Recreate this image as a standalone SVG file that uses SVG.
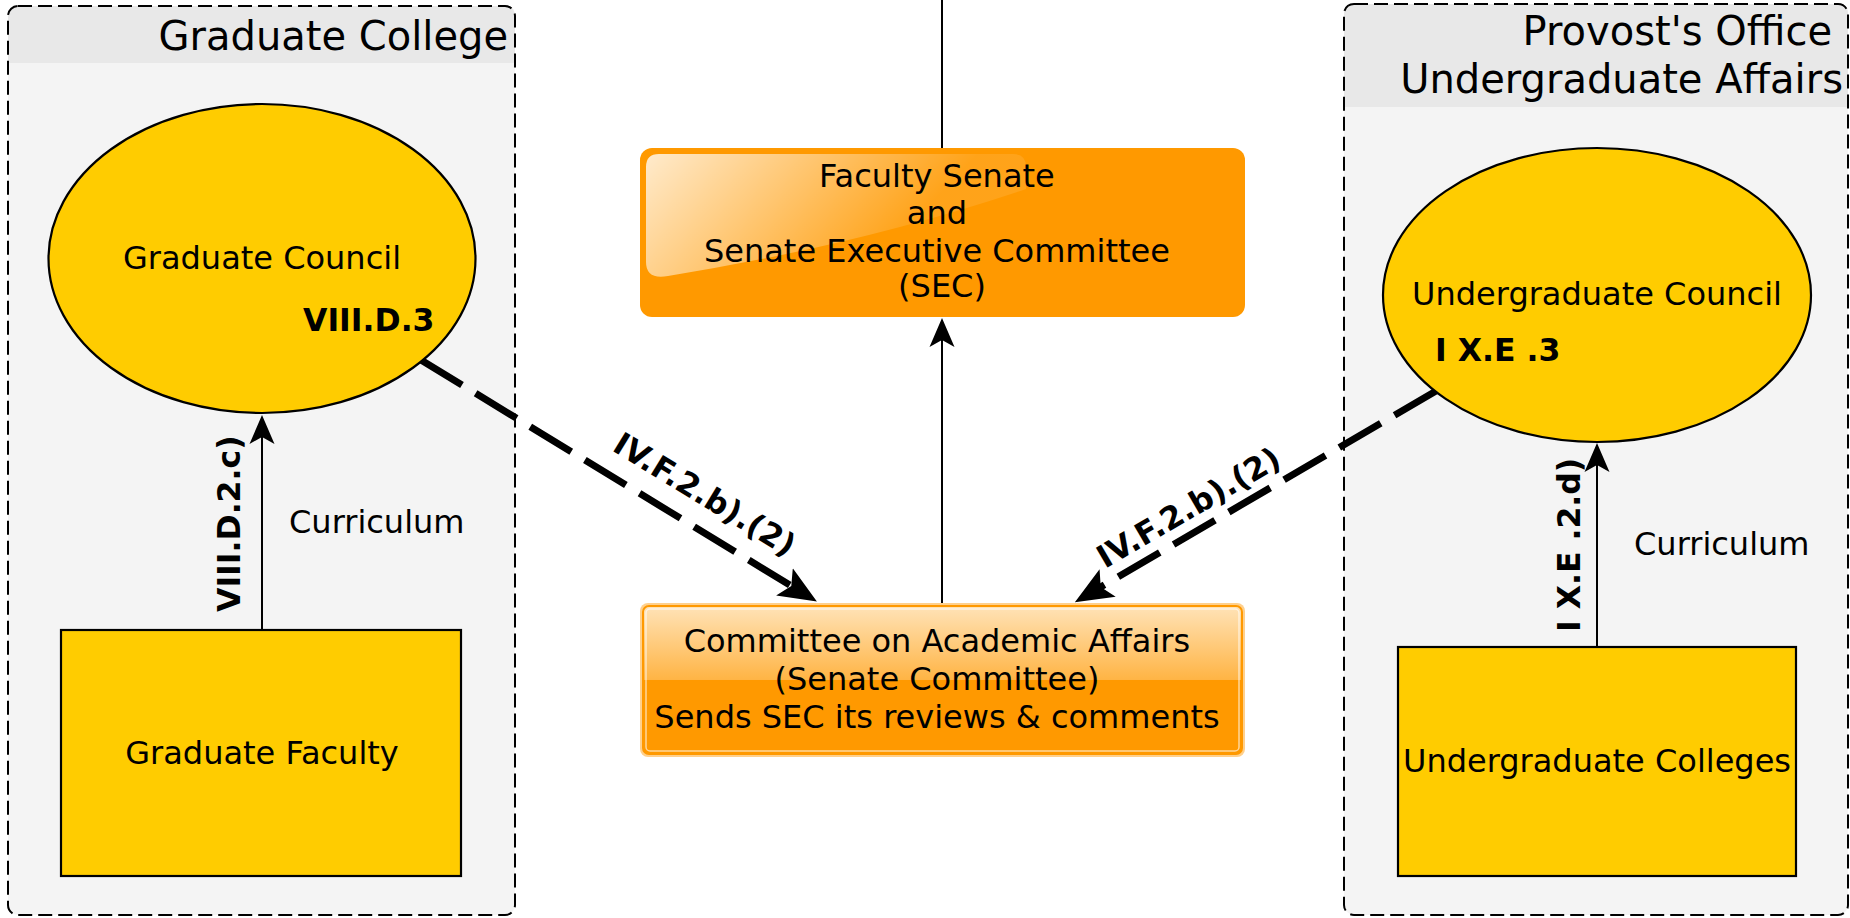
<svg xmlns="http://www.w3.org/2000/svg" width="1850" height="918" viewBox="0 0 1850 918">
  <style>
    .t { font-family: 'DejaVu Sans', 'Liberation Sans', sans-serif; fill: #000; }
    .node { font-size: 32px; }
    .lbl { font-size: 31.5px; font-weight: bold; }
    .hdr { font-size: 40px; }
    .box { fill: #f4f4f4; }
    .band { fill: #e8e8e8; }
    .frame { fill: none; stroke: #000; stroke-width: 2; stroke-dasharray: 14 6; }
    .yel { fill: #ffcc00; stroke: #000; stroke-width: 2.2; }
    .thin { fill: none; stroke: #000; stroke-width: 2; }
    .thick { fill: none; stroke: #000; stroke-width: 7; stroke-dasharray: 48 16; }
  </style>
  <defs>
    <marker id="arrS" markerUnits="userSpaceOnUse" markerWidth="32" markerHeight="28" viewBox="0 -14 32 28" refX="9" refY="0" orient="auto">
      <path d="M0,-12.5 L29,0 L0,12.5 L7,0 Z" fill="#000"/>
    </marker>
    <marker id="arrL" markerUnits="userSpaceOnUse" markerWidth="40" markerHeight="36" viewBox="0 -18 40 36" refX="10" refY="0" orient="auto">
      <path d="M0,-16 L38,0 L0,16 L8,0 Z" fill="#000"/>
    </marker>
    <linearGradient id="gloss" x1="0" y1="0" x2="0" y2="1">
      <stop offset="0" stop-color="#ffe3b8"/>
      <stop offset="0.5" stop-color="#ffb444"/>
      <stop offset="0.5" stop-color="#ff9900"/>
      <stop offset="1" stop-color="#ff9900"/>
    </linearGradient>
    <linearGradient id="shine" gradientUnits="userSpaceOnUse" x1="646" y1="154" x2="820" y2="320">
      <stop offset="0" stop-color="#ffffff" stop-opacity="0.8"/>
      <stop offset="1" stop-color="#ffffff" stop-opacity="0.1"/>
    </linearGradient>
  </defs>

  <g id="graduate-college">
    <rect class="box" x="8" y="6" width="507" height="909" rx="10"/>
    <path class="band" d="M8,63 V16 Q8,6 18,6 H505 Q515,6 515,16 V63 Z"/>
    <rect class="frame" x="8" y="6" width="507" height="909" rx="10"/>
    <text class="t hdr" x="508" y="50" text-anchor="end">Graduate College</text>
  </g>

  <g id="provost-office">
    <rect class="box" x="1344" y="4" width="504" height="911" rx="10"/>
    <path class="band" d="M1344,107 V14 Q1344,4 1354,4 H1838 Q1848,4 1848,14 V107 Z"/>
    <rect class="frame" x="1344" y="4" width="504" height="911" rx="10"/>
    <text class="t hdr" x="1832" y="45" text-anchor="end">Provost's Office</text>
    <text class="t hdr" x="1843" y="93" text-anchor="end">Undergraduate Affairs</text>
  </g>

  <g id="connectors">
    <path class="thin" d="M942,0 V148"/>
    <path class="thin" d="M262,630 V435" marker-end="url(#arrS)"/>
    <path class="thin" d="M942,603 V338" marker-end="url(#arrS)"/>
    <path class="thin" d="M1597,647 V463" marker-end="url(#arrS)"/>
    <path class="thick" d="M421,360 L793,587" marker-end="url(#arrL)"/>
    <path class="thick" d="M1436,391 L1099,588" marker-end="url(#arrL)"/>
    <text class="t lbl" transform="translate(240,612) rotate(-90)">VIII.D.2.c)</text>
    <text class="t node" x="289" y="533">Curriculum</text>
    <text class="t lbl" transform="translate(1580,632) rotate(-90)">I X.E .2.d)</text>
    <text class="t node" x="1634" y="555">Curriculum</text>
    <text class="t lbl" transform="translate(611,450) rotate(31.4)">IV.F.2.b).(2)</text>
    <text class="t lbl" transform="translate(1105,569) rotate(-30.3)">IV.F.2.b).(2)</text>
  </g>

  <g id="graduate-council">
    <ellipse class="yel" cx="262" cy="258.5" rx="213.5" ry="154.5"/>
    <text class="t node" x="262" y="269" text-anchor="middle">Graduate Council</text>
    <text class="t lbl" x="303" y="331">VIII.D.3</text>
  </g>

  <g id="graduate-faculty">
    <rect class="yel" x="61" y="630" width="400" height="246"/>
    <text class="t node" x="262" y="764" text-anchor="middle">Graduate Faculty</text>
  </g>

  <g id="undergraduate-council">
    <ellipse class="yel" cx="1597" cy="295" rx="214" ry="147"/>
    <text class="t node" x="1597" y="305" text-anchor="middle">Undergraduate Council</text>
    <text class="t lbl" x="1435" y="361">I X.E .3</text>
  </g>

  <g id="undergraduate-colleges">
    <rect class="yel" x="1398" y="647" width="398" height="229"/>
    <text class="t node" x="1597" y="772" text-anchor="middle">Undergraduate Colleges</text>
  </g>

  <g id="faculty-senate">
    <rect x="640" y="148" width="605" height="169" rx="12" fill="#ff9900"/>
    <path d="M646,167 Q646,154 659,154 H1013 Q1026,154 1026,167 V189 Q860,245 668,276 Q646,280 646,262 Z" fill="url(#shine)"/>
    <text class="t node" text-anchor="middle">
      <tspan x="942" y="187">Faculty Senate</tspan>
      <tspan x="942" y="224">and</tspan>
      <tspan x="942" y="262">Senate Executive Committee</tspan>
      <tspan x="942" y="297">(SEC)</tspan>
    </text>
  </g>

  <g id="academic-affairs">
    <rect x="640" y="603" width="605" height="154" rx="8" fill="#ffd08c"/>
    <rect x="643" y="606" width="599" height="148" rx="6" fill="url(#gloss)" stroke="#ff9900" stroke-width="2"/>
    <rect x="646" y="609" width="593" height="142" rx="4" fill="none" stroke="#ffffff" stroke-opacity="0.6" stroke-width="1.5"/>
    <text class="t node" text-anchor="middle">
      <tspan x="942" y="652">Committee on Academic Affairs</tspan>
      <tspan x="942" y="690">(Senate Committee)</tspan>
      <tspan x="937" y="728">Sends SEC its reviews &amp; comments</tspan>
    </text>
  </g>
</svg>
